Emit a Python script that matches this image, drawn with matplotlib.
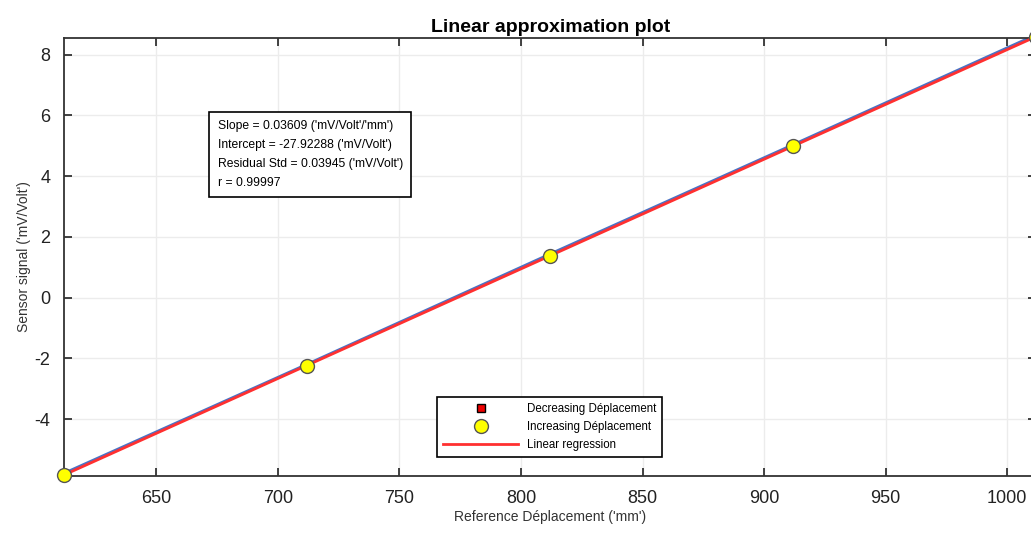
import numpy as np
import matplotlib
matplotlib.use('Agg')
import matplotlib.pyplot as plt

plt.rcParams['font.family'] = ['Liberation Sans', 'DejaVu Sans']
plt.rcParams['axes.unicode_minus'] = False

# Data
displacement = [612, 712, 812, 912, 1012]
signal_increasing = [-5.84, -2.25, 1.38, 4.98, 8.60]
signal_decreasing = [-5.84, -2.25, 1.38, 4.98, 8.60]
slope = 0.03609
intercept = -27.92288

info_lines = ["Slope = 0.03609 ('mV/Volt'/'mm')",
              "Intercept = -27.92288 ('mV/Volt')",
              "Residual Std = 0.03945 ('mV/Volt')",
              "r = 0.99997"]

xticks = [650, 700, 750, 800, 850, 900, 950, 1000]
yticks = [-4, -2, 0, 2, 4, 6, 8]

fig = plt.figure(figsize=(10.31, 5.37), dpi=100)
ax = fig.add_axes([0.0621, 0.1136, 0.943, 0.8156])

x = np.array(displacement)
ax.plot(x, np.array(signal_increasing) + 0.06, color='#4a72c4', lw=2.0, zorder=2)
ax.plot(x, slope * x + intercept, color='#ff3030', lw=2.0, zorder=3, label='Linear regression')
ax.plot(x, signal_decreasing, 's', color='#ee0000', mec='black', ms=6, zorder=4,
        label='Decreasing Déplacement', clip_on=False)
ax.plot(x, signal_increasing, 'o', color='#ffff00', mec='#555555', ms=10, zorder=5,
        label='Increasing Déplacement', clip_on=False)

ax.set_xlim(612, 1012)
ax.set_ylim(-5.87, 8.55)
ax.set_xticks(xticks)
ax.set_yticks(yticks)
ax.tick_params(direction='in', length=6, width=1.2, labelsize=13, top=True, right=True,
               colors='#222222', pad=10)
ax.grid(True, color='#ececec', lw=1)
ax.set_axisbelow(True)
for s in ax.spines.values():
    s.set_linewidth(1.3)
    s.set_color('#333333')

ax.set_title('Linear approximation plot', fontsize=14, fontweight='bold', pad=4)
ax.set_xlabel("Reference Déplacement ('mm')", fontsize=10, color='#333333', labelpad=2)
ax.set_ylabel("Sensor signal ('mV/Volt')", fontsize=10, color='#333333', labelpad=2)

ax.text(0.158, 0.812, '\n'.join(info_lines), transform=ax.transAxes, fontsize=8.7,
        va='top', ha='left', linespacing=1.75,
        bbox=dict(boxstyle='square,pad=0.7', fc='white', ec='black', lw=1.2))

h, l = ax.get_legend_handles_labels()
order = [1, 2, 0]
leg = ax.legend([h[i] for i in order], [l[i] for i in order], loc='lower left',
                bbox_to_anchor=(0.378, 0.03), fontsize=8.3, fancybox=False,
                edgecolor='black', framealpha=1, handlelength=6.5, borderpad=0.5,
                labelspacing=0.55)
leg.get_frame().set_linewidth(1.2)

fig.savefig('out.png', dpi=100)
